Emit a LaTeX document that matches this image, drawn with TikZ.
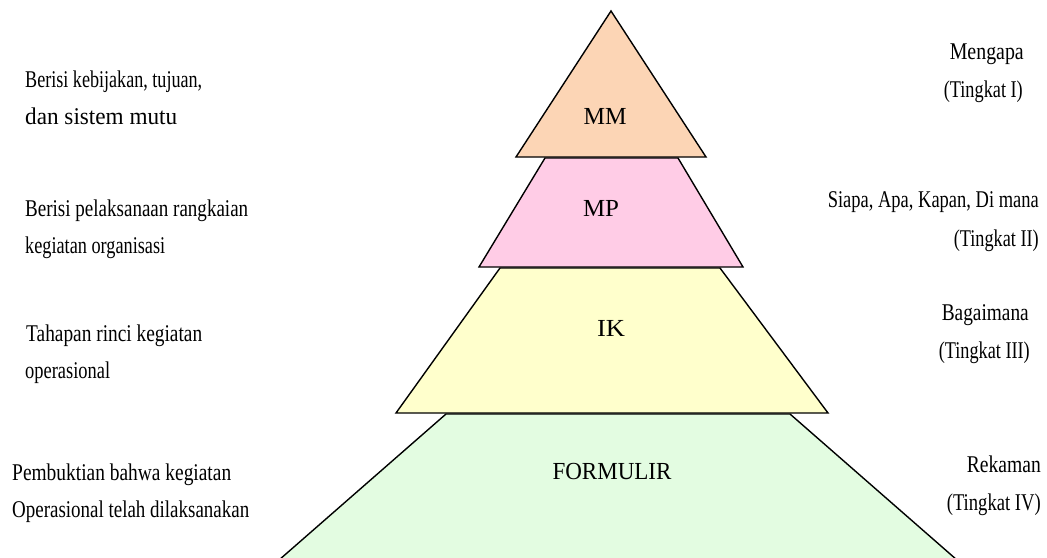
\documentclass[tikz,border=0pt]{standalone}
\usepackage{graphicx}
\usepackage{fontspec}
\setmainfont{Liberation Serif}
\definecolor{mmfill}{HTML}{FCD5B5}
\definecolor{mpfill}{HTML}{FFCCE6}
\definecolor{ikfill}{HTML}{FFFFCC}
\definecolor{frfill}{HTML}{E3FCE1}
\newcommand{\fitw}[2]{\resizebox{#1pt}{\height}{#2}}
\begin{document}
\begin{tikzpicture}[x=1pt,y=-1pt,
  layer/.style={draw=black,line width=1.4pt,line join=miter},
  lvl/.style={inner sep=0pt,anchor=base,font=\fontsize{24.5}{28}\selectfont},
  lefttxt/.style={inner sep=0pt,anchor=base west,font=\fontsize{24}{28}\selectfont},
  righttxt/.style={inner sep=0pt,anchor=base east,font=\fontsize{24}{28}\selectfont}]
\useasboundingbox (0,0) rectangle (1047,557);
\clip (0,0) rectangle (1047,557);
\fill[white] (0,0) rectangle (1047,557);
% layers, bottom first
\path[layer,fill=frfill] (446,414) -- (790,414) -- (965,567) -- (271,567) -- cycle;
\path[layer,fill=ikfill] (500,268) -- (720,268) -- (828,413) -- (396,413) -- cycle;
\path[layer,fill=mpfill] (545,158) -- (678,158) -- (743,267) -- (479,267) -- cycle;
\path[layer,fill=mmfill] (611,11) -- (706,157) -- (516,157) -- cycle;
% layer labels
\node[lvl] (mm) at (605,124) {\fitw{43}{MM}};
\node[lvl] (mp) at (601,216) {\fitw{36}{MP}};
\node[lvl] (ik) at (611,336) {\fitw{28}{IK}};
\node[lvl] (fr) at (612,479) {\fitw{119}{FORMULIR}};
% left descriptions
\node[lefttxt] (l1a) at (25,87) {\fitw{177}{Berisi kebijakan, tujuan,}};
\node[lefttxt] (l1b) at (25,124.5) {\fitw{152}{dan sistem mutu}};
\node[lefttxt] (l2a) at (25,216) {\fitw{223}{Berisi pelaksanaan rangkaian}};
\node[lefttxt] (l2b) at (25,253.5) {\fitw{140}{kegiatan organisasi}};
\node[lefttxt] (l3a) at (26,341) {\fitw{176}{Tahapan rinci kegiatan}};
\node[lefttxt] (l3b) at (25,378.5) {\fitw{85}{operasional}};
\node[lefttxt] (l4a) at (12,480) {\fitw{219}{Pembuktian bahwa kegiatan}};
\node[lefttxt] (l4b) at (12,517.5) {\fitw{237}{Operasional telah dilaksanakan}};
% right descriptions
\node[righttxt] (r1a) at (1024,59) {\fitw{74}{Mengapa}};
\node[righttxt] (r1b) at (1023,97) {\fitw{79}{(Tingkat I)}};
\node[righttxt] (r2a) at (1039,207) {\fitw{211}{Siapa, Apa, Kapan, Di mana}};
\node[righttxt] (r2b) at (1039,246) {\fitw{85}{(Tingkat II)}};
\node[righttxt] (r3a) at (1029,320) {\fitw{87}{Bagaimana}};
\node[righttxt] (r3b) at (1030,358) {\fitw{91}{(Tingkat III)}};
\node[righttxt] (r4a) at (1041,472) {\fitw{74}{Rekaman}};
\node[righttxt] (r4b) at (1041,510) {\fitw{94}{(Tingkat IV)}};
\end{tikzpicture}
\end{document}
